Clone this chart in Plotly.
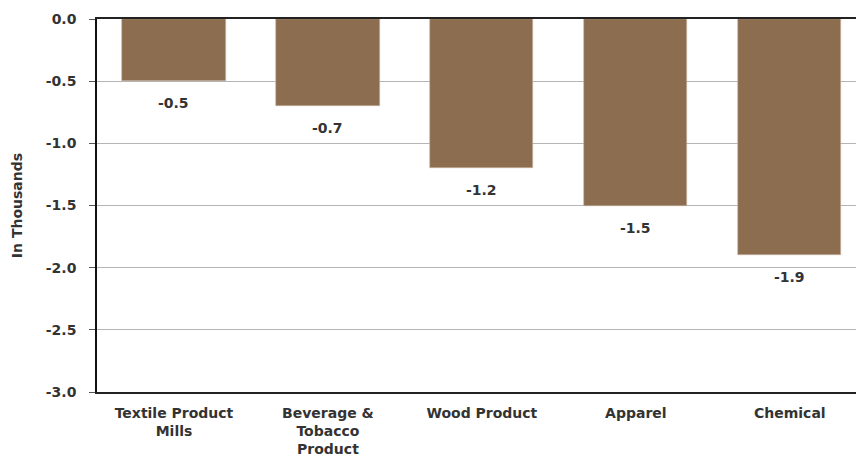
import plotly.graph_objects as go

categories = ["Textile Product<br>Mills", "Beverage &<br>Tobacco<br>Product", "Wood Product", "Apparel", "Chemical"]
values = [-0.5, -0.7, -1.2, -1.5, -1.9]
labels = ["-0.5", "-0.7", "-1.2", "-1.5", "-1.9"]
y_ticks = [0.0, -0.5, -1.0, -1.5, -2.0, -2.5, -3.0]
y_tick_text = ["0.0", "-0.5", "-1.0", "-1.5", "-2.0", "-2.5", "-3.0"]

BAR = "#8C6D4F"
TXT = "#333333"
FONT = "DejaVu Sans"

fig = go.Figure()
fig.add_trace(go.Bar(
    x=list(range(len(categories))), y=values, width=0.67,
    marker=dict(color=BAR, line=dict(color="#C8B6A4", width=0.6)),
    hoverinfo="skip",
))

for i, (v, t) in enumerate(zip(values, labels)):
    fig.add_annotation(x=i, y=v, text=t, showarrow=False, yanchor="top",
                       yshift=-12, font=dict(family=FONT, size=14, color=TXT, weight="bold"))

fig.update_layout(
    width=856, height=456,
    margin=dict(l=97, r=0, t=19, b=64),
    plot_bgcolor="white", paper_bgcolor="white",
    showlegend=False,
    bargap=0,
)
fig.update_xaxes(
    range=[-0.5, 4.43], automargin=False,
    tickmode="array", tickvals=list(range(len(categories))), ticktext=categories,
    tickfont=dict(family=FONT, size=14, color=TXT, weight="bold"),
    showline=True, linecolor="#222222", linewidth=1.5, mirror=True,
    showgrid=False, ticks="", ticklabelstandoff=7,
)
fig.update_yaxes(
    range=[-3.0, 0.0], automargin=False,
    tickmode="array", tickvals=y_ticks, ticktext=y_tick_text,
    tickfont=dict(family=FONT, size=14, color=TXT, weight="bold"),
    showline=True, linecolor="#111111", linewidth=1.5,
    showgrid=True, gridcolor="#B5B5B5", gridwidth=1,
    zeroline=False,
    ticks="outside", ticklen=6, tickcolor="#555555", ticklabelstandoff=10,
    title=dict(text="In Thousands", font=dict(family=FONT, size=14, color=TXT, weight="bold"), standoff=20),
)

fig.write_html("out.html", config={"displayModeBar": False},
               post_script="document.body.style.margin='0';document.body.style.padding='0';")
